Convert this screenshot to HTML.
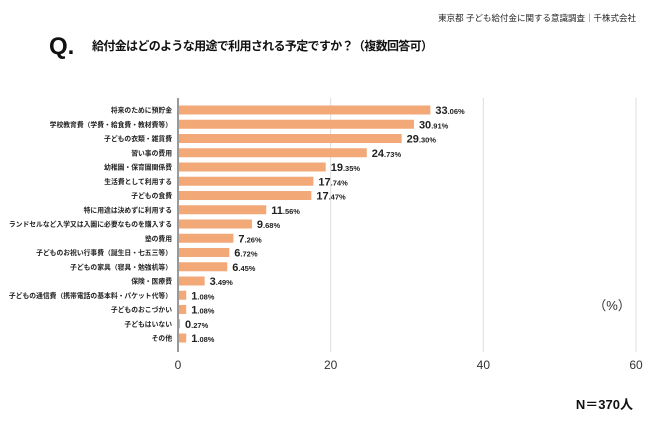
<!DOCTYPE html>
<html><head><meta charset="utf-8"><style>
body{margin:0;background:#fff;font-family:"Liberation Sans","Noto Sans CJK JP",sans-serif;}
svg text{font-family:"Liberation Sans","Noto Sans CJK JP",sans-serif;}
</style></head><body>
<svg width="650" height="427" viewBox="0 0 650 427">
<text x="636" y="21" font-size="8.5" text-anchor="end" fill="#222">東京都 子ども給付金に関する意識調査｜千株式会社</text>
<text x="49" y="54" font-size="24" font-weight="bold" fill="#111">Q.</text>
<text x="92" y="50" font-size="12" font-weight="bold" fill="#111" textLength="341">給付金はどのような用途で利用される予定ですか？（複数回答可）</text>
<g id="grid"></g><g id="bars"></g><g id="ticks"></g>
<text x="612" y="310" font-size="13" fill="#333" text-anchor="middle">（%）</text>
<text x="633" y="409" font-size="13" font-weight="bold" fill="#111" text-anchor="end">N＝370人</text>
</svg>
<script>
const categories=["将来のために預貯金","学校教育費（学費・給食費・教材費等）","子どもの衣類・雑貨費","習い事の費用","幼稚園・保育園関係費","生活費として利用する","子どもの食費","特に用途は決めずに利用する","ランドセルなど入学又は入園に必要なものを購入する","塾の費用","子どものお祝い行事費（誕生日・七五三等）","子どもの家具（寝具・勉強机等）","保険・医療費","子どもの通信費（携帯電話の基本料・パケット代等）","子どものおこづかい","子どもはいない","その他"];
const values=[33.06,30.91,29.30,24.73,19.35,17.74,17.47,11.56,9.68,7.26,6.72,6.45,3.49,1.08,1.08,0.27,1.08];
const ticks=[0,20,40,60];
const NS="http://www.w3.org/2000/svg";
const x0=178,x1=636,xmax=60,yTop=105.5,pitch=14.25,bh=9;
const xs=v=>x0+(x1-x0)*v/xmax;
function mk(t,a,p){const e=document.createElementNS(NS,t);for(const k in a)e.setAttribute(k,a[k]);p.appendChild(e);return e;}
const g=document.getElementById('grid'),b=document.getElementById('bars'),tk=document.getElementById('ticks');
ticks.forEach(t=>{
 const l=mk('line',{x1:xs(t),x2:xs(t),y1:98,y2:352,stroke:t===0?'#333':'#ddd','stroke-width':1},g);
 
 
 const tx=mk('text',{x:xs(t),y:369,'font-size':12,'text-anchor':'middle',fill:'#333'},tk);
 tx.textContent=t;
 
 
});
categories.forEach((c,i)=>{
 const y=yTop+i*pitch;
 const lab=mk('text',{x:172,y:y+bh/2+2.5,'font-size':6.8,'font-weight':'bold','text-anchor':'end',fill:'#222'},b);
 lab.textContent=c;
 
 
 const r=mk('rect',{x:x0+1,y:y,width:Math.max(0,xs(values[i])-x0-1),height:bh,fill:'#f3a878'},b);
 
 
 const s=values[i].toFixed(2).split('.');
 const v=mk('text',{x:xs(values[i])+5,y:y+bh/2+4,'font-size':11,'font-weight':'bold',fill:'#222'},b);
 
 
 const a=mk('tspan',{},v);a.textContent=s[0];
 const d=mk('tspan',{'font-size':7.5},v);d.textContent='.'+s[1]+'%';
});
</script>
</body></html>
